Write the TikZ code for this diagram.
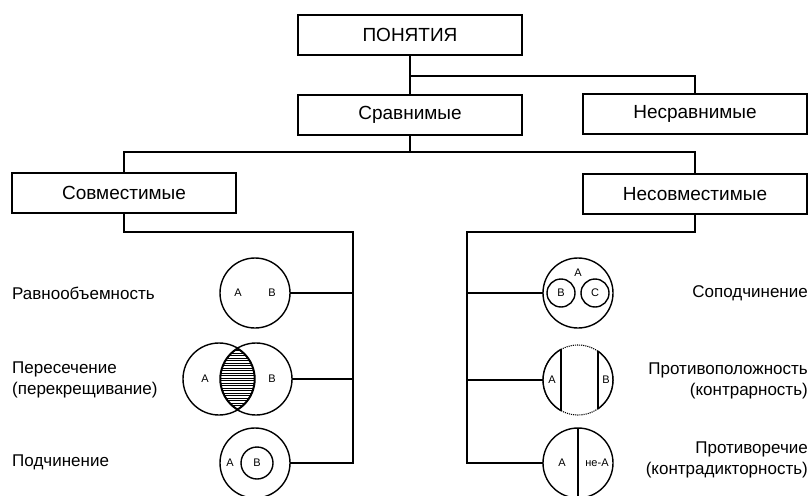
\documentclass[tikz,border=0pt]{standalone}
\usepackage{fontspec}
\setmainfont{Liberation Sans}
\begin{document}
\begin{tikzpicture}[x=1pt,y=-1pt,
  box/.style={draw, line width=2.2pt, minimum width=224pt, minimum height=40pt, inner sep=0pt, font=\fontsize{19}{21}\selectfont},
  link/.style={line width=2pt},
  circ/.style={draw, circle, line width=1.4pt, inner sep=0pt, outer sep=0pt, minimum size=70pt},
  small/.style={draw, circle, line width=1.4pt, inner sep=0pt, outer sep=0pt, minimum size=28pt},
  tag/.style={inner sep=0pt, font=\fontsize{11}{13}\selectfont},
  lbl/.style={inner sep=0pt, font=\fontsize{17}{21}\selectfont}]
\pgfmathsetmacro\rad{35};
\useasboundingbox (0,0) rectangle (810,495);
\node[box] (pon) at (410,35) {ПОНЯТИЯ};
\node[box] (sr) at (410,115) {Сравнимые};
\node[box] (nesr) at (695,114) {Несравнимые};
\node[box] (sov) at (124,193) {Совместимые};
\node[box] (nesov) at (695,194) {Несовместимые};
\coordinate (j1) at (410,76);
\coordinate (j2) at (410,152);
\coordinate (lbus) at (353,232);
\coordinate (rbus) at (467,232);
\draw[link] (pon.south) -- (sr.north);
\draw[link] (j1) -| (nesr.north);
\draw[link] (sr.south) -- (j2);
\draw[link] (sov.north) |- (j2) -| (nesov.north);
\node[circ] (eq) at (255,293) {};
\node[tag] (eqA) at (238,293) {A};
\node[tag] (eqB) at (272,293) {B};
\node[circ, minimum size=72pt] (inA) at (219,379) {};
\node[circ, minimum size=72pt] (inB) at (256,379) {};
\begin{scope}
\clip (219,379) circle (36);
\clip (256,379) circle (36);
\foreach \y in {343,345.5,...,416} \draw[line width=0.6pt] (210,\y) -- (265,\y);
\draw[line width=2.6pt] (219,379) circle (36);
\draw[line width=2.6pt] (256,379) circle (36);
\end{scope}
\node[tag] (inAl) at (205,379) {A};
\node[tag] (inBl) at (272,379) {B};
\node[circ] (sub) at (255,463) {};
\node[small, tag, minimum size=32pt] (subB) at (257,463) {B};
\node[tag] (subA) at (230,463) {A};
\draw[link] (sov.south) |- (lbus) -- (lbus |- sub.east) -- (sub.east);
\draw[link] (eq.east) -- (eq.east -| lbus);
\draw[link] (inB.east) -- (inB.east -| lbus);
\node[circ] (co) at (578,293) {};
\node[small, tag] (coB) at (561,293) {B};
\node[small, tag] (coC) at (595,293) {C};
\node[tag] (coA) at (578,273) {A};
\node[circ, draw=none] (pr) at (578,380) {};
\draw[line width=1.1pt, densely dotted] (578,380) circle (\rad);
\begin{scope}
\clip (500,300) rectangle (561,460) (598,300) rectangle (660,460);
\draw[line width=1.4pt] (578,380) circle (\rad);
\end{scope}
\draw[line width=1.4pt] (pr.119) -- (pr.241);
\draw[line width=1.4pt] (pr.55) -- (pr.-55);
\node[tag] (prA) at (552,380) {A};
\node[tag] (prB) at (606,380) {B};
\node[circ] (ct) at (578,463) {};
\draw[line width=1.4pt] (ct.north) -- (ct.south);
\node[tag] (ctA) at (562,463) {A};
\node[tag] (ctN) at (597,463) {не-А};
\draw[link] (nesov.south) |- (rbus) -- (rbus |- ct.west) -- (ct.west);
\draw[link] (co.west) -- (co.west -| rbus);
\draw[link] (pr.west) -- (pr.west -| rbus);
\node[lbl, anchor=west] (l1) at (12,293) {Равнообъемность};
\node[lbl, anchor=west, align=left] (l2) at (12,380) {Пересечение\\(перекрещивание)};
\node[lbl, anchor=west] (l3) at (12,462) {Подчинение};
\node[lbl, anchor=east] (r1) at (808,293) {Соподчинение};
\node[lbl, anchor=east, align=right] (r2) at (808,381) {Противоположность\\(контрарность)};
\node[lbl, anchor=east, align=right] (r3) at (808,460) {Противоречие\\(контрадикторность)};
\end{tikzpicture}
\end{document}
